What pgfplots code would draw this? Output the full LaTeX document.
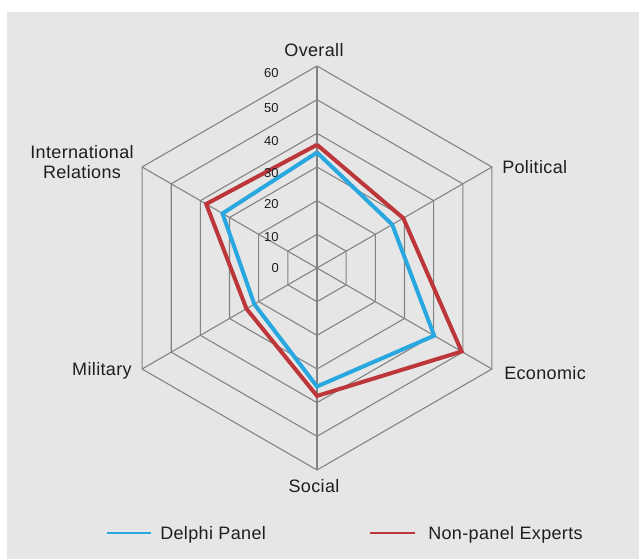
\documentclass[border=0pt]{standalone}
\usepackage{fontspec}
\setmainfont{Liberation Sans}[LetterSpace=2]
\usepackage{pgfplots}
\pgfplotsset{compat=1.18}
\usepgfplotslibrary{polar}

\definecolor{bgGray}{RGB}{230,230,230}
\definecolor{gridGray}{RGB}{130,130,130}
\definecolor{delphiBlue}{RGB}{41,168,224}
\definecolor{expertRed}{RGB}{188,54,58}
\definecolor{txt}{RGB}{30,30,30}

\newcommand{\lbl}{\fontsize{13.5}{15}\selectfont}
\newcommand{\tck}{\fontsize{9.75}{11}\selectfont}

\begin{document}
\begin{tikzpicture}[x=0.75pt,y=0.75pt]
% canvas 639 x 559 px
\fill[white] (0,0) rectangle (639,559);
\fill[bgGray] (7,0) rectangle (639,547);

\begin{polaraxis}[
    at={(237.75pt,218.25pt)}, anchor=center,
    scale only axis,
    width=303pt, height=303pt,
    xmin=0, xmax=360,
    ymin=0, ymax=60,
    hide axis,
    clip=false,
]
% hexagonal grid
\pgfplotsinvokeforeach{10,20,30,40,50,60}{
  \addplot[gridGray, line width=0.8pt, line join=miter] coordinates {
    (90,#1) (30,#1) (330,#1) (270,#1) (210,#1) (150,#1) (90,#1)};
}
\pgfplotsinvokeforeach{90,30,330,270,210,150}{
  \addplot[gridGray, line width=0.8pt] coordinates {(#1,0) (#1,60)};
}

% Delphi Panel
\addplot[delphiBlue, line width=3pt, line join=miter] coordinates {
  (90,34.3) (30,25.8) (330,40.2) (270,35.2) (210,21.5) (150,32.4) (90,34.3)};
% Non-panel Experts
\addplot[expertRed, line width=3pt, line join=miter] coordinates {
  (90,36.6) (30,29.6) (330,49.6) (270,38.0) (210,24.2) (150,38.0) (90,36.6)};
\end{polaraxis}

% radial tick labels
\begin{scope}[every node/.style={anchor=base east, inner sep=0pt, text=txt, font=\tck}]
\node at (279,286) {0};
\node at (279,317.6) {10};
\node at (279,350) {20};
\node at (279,381.6) {30};
\node at (279,413.6) {40};
\node at (279,446) {50};
\node at (279,481) {60};
\end{scope}

% category labels
\begin{scope}[every node/.style={inner sep=0pt, text=txt, font=\lbl}]
\node[anchor=base] at (314,502.3) {Overall};
\node[anchor=base west] at (502,385.7) {Political};
\node[anchor=base west] at (504,179) {Economic};
\node[anchor=base] at (314,66.7) {Social};
\node[anchor=base east] at (132,183.3) {Military};
\node[anchor=base] at (82,400.7) {International};
\node[anchor=base] at (82,380.7) {Relations};
\end{scope}

% legend
\draw[delphiBlue, line width=2pt] (107,26) -- (151,26);
\node[anchor=base west, inner sep=0pt, text=txt, font=\lbl] at (160,19.7) {Delphi Panel};
\draw[expertRed, line width=2pt] (370,26) -- (415,26);
\node[anchor=base west, inner sep=0pt, text=txt, font=\lbl] at (428,19.7) {Non-panel Experts};
\end{tikzpicture}
\end{document}
